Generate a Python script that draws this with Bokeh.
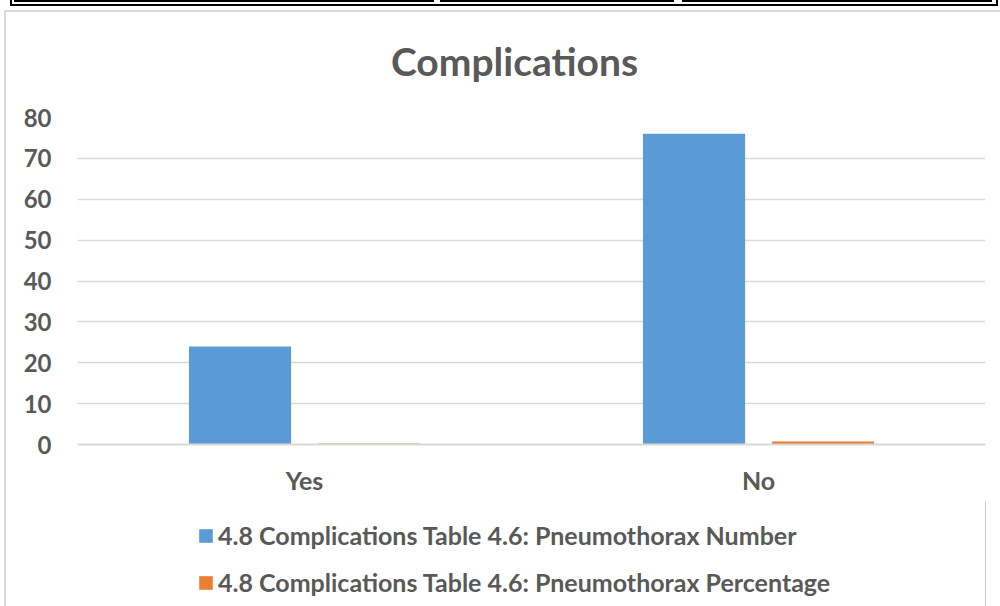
from bokeh.plotting import figure
from bokeh.models import ColumnDataSource, FactorRange, Legend, LegendItem, FixedTicker, Div, Label
from bokeh.layouts import column, row
from bokeh.transform import dodge
from bokeh.embed import file_html
from bokeh.resources import INLINE

categories = ["Yes", "No"]
number_values = [24, 76]
percentage_values = [0.24, 0.76]
series_names = ["4.8 Complications Table 4.6: Pneumothorax Number",
                "4.8 Complications Table 4.6: Pneumothorax Percentage"]
y_ticks = [0, 10, 20, 30, 40, 50, 60, 70, 80]
chart_title = "Complications"

FONT = "Lato"
TXT = "#595959"
BLUE = "#5B9BD5"
ORANGE = "#ED7D31"


def blank_fig(h):
    f = figure(width=994, height=h, output_backend="svg", toolbar_location=None,
               x_axis_type=None, y_axis_type=None, x_range=(0, 1), y_range=(0, 1),
               min_border=0, min_border_left=71, min_border_right=15,
               min_border_top=0, min_border_bottom=0)
    f.outline_line_color = None
    f.grid.visible = False
    f.background_fill_color = "white"
    f.border_fill_color = "white"
    return f


# title panel
tf = blank_fig(76)
tf.add_layout(Label(x=437, y=28, x_units="screen", y_units="screen", text=chart_title,
                    text_font=FONT, text_font_style="bold", text_font_size="39px",
                    text_color=TXT, text_align="center", text_baseline="middle"))

src = ColumnDataSource(dict(cat=categories, num=number_values, pct=percentage_values))

p = figure(x_range=FactorRange(*categories), y_range=(0, 80),
           width=994, height=412, output_backend="svg", toolbar_location=None,
           min_border_left=71, min_border_right=15, min_border_top=29, min_border_bottom=56)
p.outline_line_color = None
p.background_fill_color = "white"
p.border_fill_color = "white"

r1 = p.vbar(x=dodge("cat", -0.142, range=p.x_range), top="num", width=0.225, source=src,
            fill_color=BLUE, line_color=None)
r2 = p.vbar(x=dodge("cat", 0.142, range=p.x_range), top="pct", width=0.225, source=src,
            fill_color=ORANGE, line_color=None)

p.xgrid.grid_line_color = None
p.ygrid.grid_line_color = "#d9d9d9"
p.ygrid.grid_line_width = 1.3
p.yaxis.ticker = FixedTicker(ticks=y_ticks)

p.yaxis.axis_line_color = None
p.yaxis.major_tick_line_color = None
p.yaxis.minor_tick_line_color = None
p.yaxis.major_label_standoff = 20
p.yaxis.major_label_text_font = FONT
p.yaxis.major_label_text_font_style = "bold"
p.yaxis.major_label_text_font_size = "24px"
p.yaxis.major_label_text_color = TXT

p.xaxis.axis_line_color = "#d9d9d9"
p.xaxis.axis_line_width = 2
p.xaxis.major_tick_line_color = None
p.xaxis.minor_tick_line_color = None
p.xaxis.major_label_standoff = 14
p.xaxis.major_label_text_font = FONT
p.xaxis.major_label_text_font_style = "bold"
p.xaxis.major_label_text_font_size = "25px"
p.xaxis.major_label_text_color = TXT

# legend panel
lg = blank_fig(106)
d1 = lg.vbar(x=[5], top=[1], width=0.1, fill_color=BLUE, line_color=None)
d2 = lg.vbar(x=[5], top=[1], width=0.1, fill_color=ORANGE, line_color=None)
legend = Legend(items=[LegendItem(label=series_names[0], renderers=[d1]),
                       LegendItem(label=series_names[1], renderers=[d2])],
                location=(120, 9), orientation="vertical",
                glyph_width=17, glyph_height=17, label_height=20, spacing=17,
                label_standoff=4, padding=0, margin=0, border_line_color=None,
                background_fill_alpha=0,
                label_text_font=FONT, label_text_font_style="bold",
                label_text_font_size="25px", label_text_color=TXT)
lg.add_layout(legend, "center")

top_html = (
    '<div style="position:relative;width:1000px;height:12px;overflow:hidden;">'
    '<div style="position:absolute;left:10px;top:-10px;width:988px;height:16px;border:2px solid #000;"></div>'
    '<div style="position:absolute;left:14px;top:-10px;width:420px;height:12px;border:2px solid #000;"></div>'
    '<div style="position:absolute;left:440px;top:-10px;width:234px;height:12px;border:2px solid #000;"></div>'
    '<div style="position:absolute;left:682px;top:-10px;width:310px;height:12px;border:2px solid #000;"></div>'
    '<div style="position:absolute;left:4px;top:10px;width:996px;height:2px;background:#d9d9d9;"></div>'
    '</div>'
)
left_html = ('<div style="position:relative;width:6px;height:594px;">'
             '<div style="position:absolute;left:4px;top:0;width:2px;height:594px;background:#d9d9d9;"></div>'
             '</div>')
top_div = Div(text=top_html, width=1000, height=12, margin=0)
left_div = Div(text=left_html, width=6, height=594, margin=0)

layout = column(top_div, row(left_div, column(tf, p, lg, spacing=0), spacing=0), spacing=0)

open("out.html", "w").write(file_html(layout, INLINE))
